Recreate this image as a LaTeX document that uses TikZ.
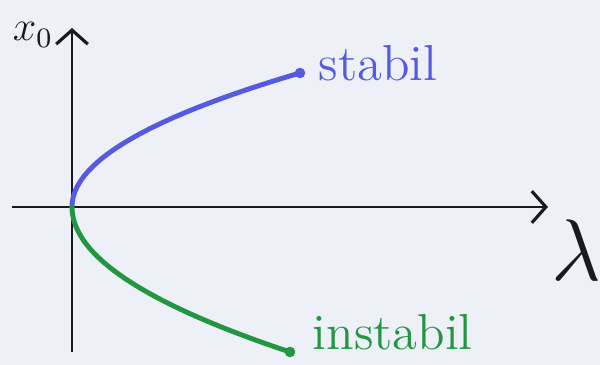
\documentclass[tikz,border=0pt]{standalone}
\usetikzlibrary{positioning,calc,arrows.meta}
\definecolor{paper}{RGB}{238,240,248}
\definecolor{ink}{RGB}{25,25,30}
\definecolor{stabcol}{RGB}{85,90,225}
\definecolor{instabcol}{RGB}{35,150,65}

\begin{document}
\begin{tikzpicture}[axis/.style={draw=ink,line width=0.7pt,-{Straight Barb[length=4pt,width=9pt,line width=0.9pt]}},
				branch/.style={line width=1.4pt,line cap=round},
				label/.style={font=\Large,inner sep=0pt,anchor=base west}]
				\fill[paper] (0,0) rectangle (6,3.65);
				\useasboundingbox (0,0) rectangle (6,3.65);
				\coordinate (O)     at (0.72,1.58);
				\coordinate (xl)    at (0.12,1.58);
				\coordinate (xr)    at (5.48,1.58);
				\coordinate (yb)    at (0.72,0.13);
				\coordinate (yt)    at (0.72,3.37);
				\coordinate (Stop)  at (3.00,2.92);
				\coordinate (Sbot)  at (2.90,0.13);
				\node (XO)    [font=\large,text=ink,inner sep=0pt] at (0.33,3.30) {$x_0$};
				\node (LAM)   [font=\Huge,text=ink,inner sep=0pt] at (5.76,1.15) {$\lambda$};
				\node (STAB)  [label,text=stabcol] at ($(Stop)+(0.18,-0.08)$) {stabil};
				\node (INST)  [label,text=instabcol] at ($(Sbot)+(0.22,0.02)$) {instabil};
				
				\draw[axis] (xl) -- (xr);
				\draw[axis] (yb) -- (yt);
				\draw[branch,stabcol] plot[domain=0:1,samples=40,smooth] ({0.72+2.28*\x*\x},{1.58+1.34*\x});
				\draw[branch,instabcol] plot[domain=0:1,samples=40,smooth] ({0.72+2.18*\x*\x},{1.58-1.45*\x});
				\fill[stabcol] (Stop) circle (1.5pt);
				\fill[instabcol] (Sbot) circle (1.5pt);
			\end{tikzpicture}
\end{document}
